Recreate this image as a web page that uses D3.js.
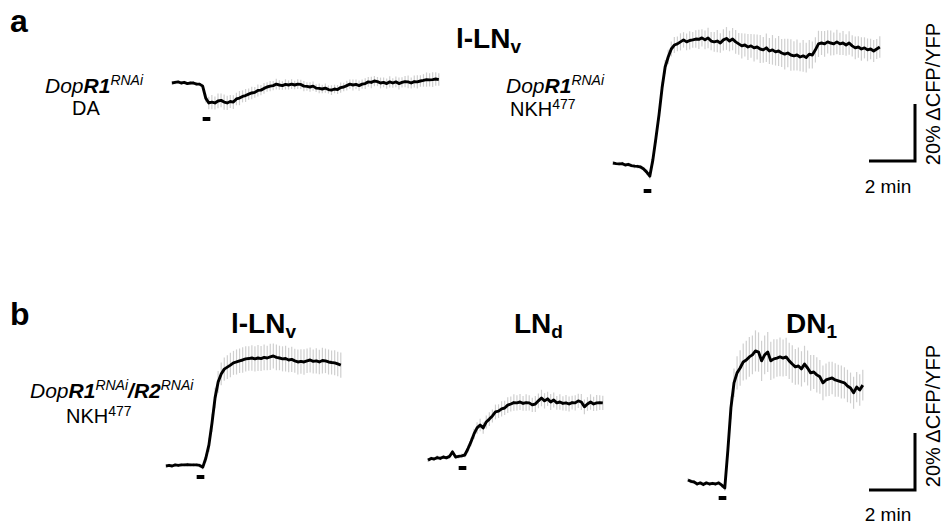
<!DOCTYPE html>
<html><head><meta charset="utf-8">
<script src="https://cdn.jsdelivr.net/npm/d3@7/dist/d3.min.js"></script>
<style>html,body{margin:0;padding:0;background:#fff;} svg{display:block;}</style>
</head><body>
<svg id="chart" width="947" height="527"></svg>
<script>
// ---- data (ΔCFP/YFP in %, one sample every 8 s) ----
const sampleSeconds = 8;
const stimOnsetSeconds = 80;
const stimDurationSeconds = 20;
const scaleBarSeconds = 120;
const scaleBarPercent = 20;
const scaleBarTimeLabel = "2 min";
const scaleBarAmpLabel = "20% \u0394CFP/YFP";

const a1Values = [0,0.2,0.4,0,0.2,-0.2,0,0,-0.4,-0.4,-1.1,-5.3,-7.0,-6.7,-7.0,-6.3,-6.1,-6.7,-7.0,-6.5,
  -6.7,-5.6,-5.3,-4.7,-4.4,-3.9,-3.5,-3.3,-2.6,-2.5,-1.9,-1.4,-1.1,-0.9,-0.4,-0.7,-0.9,-0.5,-0.7,-0.4,
  -0.7,-0.4,-0.5,-1.1,-1.2,-1.4,-1.1,-1.8,-1.9,-2.1,-1.8,-2.3,-2.5,-2.1,-2.3,-1.6,-1.4,-0.9,-0.4,-0.7,
  -0.5,-0.9,-0.4,-0.2,0.4,0.2,0.7,0.5,0,0.2,-0.2,0.4,0,0.4,-0.2,0.2,0.5,0.4,0,0.5,
  0.4,0.7,0.9,1.2,1.1,1.2,1.4,1.2];
const a1Sem = [0.5,0.6,0.5,0.7,0.6,0.5,0.6,0.7,0.6,0.6,0.8,1.5,2.2,2.5,2.3,2.6,2.4,2.7,2.5,2.3,
  2.4,2.2,2.5,2.1,2.3,2.0,2.2,1.9,2.1,1.8,1.9,1.7,1.8,1.6,1.9,1.7,1.5,1.8,1.6,1.7,
  1.5,1.7,1.6,1.8,1.5,1.7,1.6,1.4,1.7,1.5,1.6,1.4,1.7,1.5,1.6,1.8,1.5,1.7,1.6,1.9,
  1.7,1.8,1.6,1.9,1.7,2.0,1.8,1.6,1.9,1.7,1.8,2.0,1.7,1.9,2.1,1.8,2.0,2.2,1.9,2.1,
  2.3,2.0,2.2,2.5,2.3,2.6,2.4,2.2];

const a2Values = [0.7,0.5,0.4,0.5,0,0.2,-0.2,-0.4,-0.5,-0.7,-1.4,-2.5,-3.9,1.8,9.5,17.6,27.0,34.4,37.9,40.7,
  42.1,42.5,43.2,43.9,43.2,43.7,43.9,44.2,44.1,44.6,43.9,44.6,43.5,43.2,43.5,42.8,43.9,44.4,43.5,44.2,
  43.2,42.5,41.8,42.1,41.4,41.8,41.1,41.4,40.7,40.4,41.1,40.0,40.4,39.7,40.0,39.3,38.9,39.3,38.6,38.3,
  38.6,37.9,38.3,37.7,38.9,38.6,40.4,42.5,42.8,42.5,43.2,42.8,42.5,43.2,42.5,42.8,42.1,42.8,41.8,41.1,
  41.4,40.7,41.1,40.4,40.7,40.0,40.7,41.4];
const a2Sem = [0.6,0.5,0.7,0.6,0.5,0.7,0.6,0.8,0.7,0.6,0.8,1.0,1.2,1.5,1.8,2.0,2.2,2.4,2.5,2.6,
  2.8,2.6,3.0,2.7,2.9,3.2,2.8,3.1,3.4,3.0,3.3,3.6,3.2,3.5,3.9,3.4,3.7,4.0,3.6,3.9,
  4.2,3.8,4.4,4.0,4.6,4.2,4.8,4.4,4.9,4.5,5.0,4.6,5.2,4.8,5.3,4.9,5.4,5.0,5.5,5.1,
  5.4,5.0,5.6,5.2,5.0,4.7,4.4,4.6,4.2,4.5,4.1,4.4,4.0,4.3,3.9,4.2,3.8,4.1,3.7,4.0,
  3.8,4.1,3.7,4.0,3.6,3.9,3.5,3.8];

const b1Values = [0,0.2,0,0.4,0.2,0.4,0.4,0.5,0.4,0.4,0.4,0.2,-0.4,2.8,7.4,15.1,23.9,29.5,32.3,34.0,
  34.7,35.4,36.2,36.5,36.9,37.2,37.6,37.7,37.9,37.6,37.9,37.7,38.1,37.9,38.3,38.6,38.1,37.9,37.6,37.7,
  37.2,37.4,36.9,36.5,36.7,36.5,36.9,37.2,36.7,36.9,36.5,37.0,36.9,36.5,36.3,36.2,35.8,35.4];
const b1Sem = [0.5,0.6,0.5,0.6,0.5,0.6,0.5,0.6,0.5,0.6,0.6,0.7,0.8,1.5,2.5,3.2,3.6,3.8,4.0,4.1,
  4.2,4.3,4.2,4.4,4.3,4.5,4.4,4.3,4.5,4.4,4.6,4.4,4.5,4.3,4.6,4.4,4.5,4.3,4.4,4.5,
  4.3,4.4,4.2,4.4,4.3,4.5,4.3,4.4,4.2,4.4,4.3,4.5,4.3,4.4,4.2,4.4,4.3,4.4];

const b2Values = [-0.4,0.2,0,0.5,0.2,0.7,0.4,0.9,2.5,0.7,0.9,1.1,1.4,3.5,6.0,8.8,10.9,11.9,10.9,13.0,
  14.0,15.1,16.5,16.8,17.6,17.9,18.9,19.3,19.8,19.7,20.0,19.5,19.8,19.7,19.0,19.3,20.4,21.4,20.4,21.1,
  20.0,20.7,19.7,20.0,19.5,19.7,19.3,19.8,19.7,20.4,20.0,18.3,19.3,20.0,19.3,19.7,19.8,19.7];
const b2Sem = [0.6,0.7,0.6,0.8,0.6,0.7,0.6,0.8,0.7,0.6,0.7,0.8,0.9,1.2,1.5,1.8,2.0,2.2,2.0,2.3,
  2.4,2.3,2.6,2.4,2.7,2.5,2.8,2.6,2.9,2.7,2.8,2.6,2.9,2.7,2.5,2.8,2.6,2.9,2.7,2.5,
  2.8,2.6,2.4,2.7,2.5,2.8,2.6,2.4,2.7,2.5,2.8,2.6,2.4,2.7,2.5,2.8,2.6,2.5];

const b3Values = [1.4,0.9,0.7,0,0.4,-0.2,0.4,0,0.2,0,0.4,-0.4,-1.4,11.9,26.7,35.5,39.0,40.7,42.8,43.5,
  44.6,45.3,46.7,46.3,43.2,45.3,46.3,43.2,43.9,44.2,44.6,44.2,44.6,43.2,42.1,41.1,41.4,40.4,42.1,40.7,
  39.0,39.3,38.3,37.6,35.5,36.5,36.9,37.2,36.5,36.2,35.8,35.5,34.4,33.7,32.0,34.0,33.0,34.7];
const b3Sem = [0.6,0.7,0.6,0.7,0.6,0.7,0.6,0.7,0.6,0.7,0.7,0.8,1.0,2.5,4.0,5.0,5.8,6.2,6.5,6.8,
  7.0,6.8,7.2,6.9,7.1,6.8,7.0,6.7,6.9,6.6,6.8,6.5,6.7,6.4,6.6,6.3,6.5,6.2,6.4,6.1,
  6.3,6.0,6.2,5.9,6.1,5.8,6.0,5.7,5.9,5.6,5.8,5.5,5.7,5.4,5.6,5.3,5.5,5.4];

// ---- layout ----
const FONT = "'Liberation Sans', Arial, Helvetica, sans-serif";
const svg = d3.select("#chart").attr("font-family", FONT);

const xScale = d3.scaleLinear().domain([0, scaleBarSeconds]).range([0, 46]);
const yScale = d3.scaleLinear().domain([0, scaleBarPercent]).range([0, -57]);

const traces = [
  {values: a1Values, sem: a1Sem, x0: 172, y0: 83, barTop: 117},
  {values: a2Values, sem: a2Sem, x0: 613, y0: 165, barTop: 189},
  {values: b1Values, sem: b1Sem, x0: 166, y0: 466, barTop: 475},
  {values: b2Values, sem: b2Sem, x0: 428, y0: 459, barTop: 466},
  {values: b3Values, sem: b3Sem, x0: 688, y0: 484, barTop: 496}
];

const line = d3.line()
  .x((d, i) => xScale(i * sampleSeconds))
  .y(d => yScale(d));

traces.forEach(tr => {
  const g = svg.append("g").attr("transform", `translate(${tr.x0},${tr.y0})`);
  g.selectAll("line.err").data(tr.values).join("line")
    .attr("class", "err")
    .attr("x1", (d, i) => xScale(i * sampleSeconds))
    .attr("x2", (d, i) => xScale(i * sampleSeconds))
    .attr("y1", (d, i) => yScale(d - tr.sem[i]))
    .attr("y2", (d, i) => yScale(d + tr.sem[i]))
    .attr("stroke", "#cfcfcf").attr("stroke-width", 1.2);
  g.append("path").datum(tr.values)
    .attr("d", line)
    .attr("fill", "none").attr("stroke", "#000")
    .attr("stroke-width", 2.9).attr("stroke-linejoin", "round");
  g.append("rect")
    .attr("x", xScale(stimOnsetSeconds))
    .attr("y", tr.barTop - tr.y0)
    .attr("width", xScale(stimDurationSeconds))
    .attr("height", 4)
    .attr("fill", "#000");
});

// scale bars
[{cx: 915, cy: 161, ty: 193, ly: 94}, {cx: 915, cy: 490, ty: 521, ly: 416}].forEach(sb => {
  svg.append("path")
    .attr("d", `M${sb.cx - xScale(scaleBarSeconds)},${sb.cy}H${sb.cx}V${sb.cy + yScale(scaleBarPercent)}`)
    .attr("fill", "none").attr("stroke", "#000").attr("stroke-width", 3);
  svg.append("text").attr("x", 888).attr("y", sb.ty)
    .attr("text-anchor", "middle").attr("font-size", 19).text(scaleBarTimeLabel);
  svg.append("text")
    .attr("transform", `translate(940,${sb.ly}) rotate(-90)`)
    .attr("text-anchor", "middle").attr("font-size", 20).text(scaleBarAmpLabel);
});

// panel letters
svg.append("text").attr("x", 10).attr("y", 32).attr("font-size", 32).attr("font-weight", "bold").text("a");
svg.append("text").attr("x", 10).attr("y", 325).attr("font-size", 32).attr("font-weight", "bold").text("b");

// titles
function title(x, y, main, sub) {
  const t = svg.append("text").attr("x", x).attr("y", y)
    .attr("font-size", 28).attr("font-weight", "bold");
  t.append("tspan").text(main);
  t.append("tspan").attr("font-size", 19).attr("dy", 5).text(sub);
}
title(456, 48, "l-LN", "v");
title(231, 333, "l-LN", "v");
title(514, 333, "LN", "d");
title(786, 333, "DN", "1");

// genotype / drug labels
function genotype(x, y, second) {
  const t = svg.append("text").attr("x", x).attr("y", y).attr("font-size", 21).attr("font-style", "italic");
  t.append("tspan").text("Dop");
  t.append("tspan").attr("font-weight", "bold").text("R1");
  t.append("tspan").attr("font-size", 14).attr("dy", -8).text("RNAi");
  if (second) {
    t.append("tspan").attr("font-weight", "bold").attr("dy", 8).text("/R2");
    t.append("tspan").attr("font-size", 14).attr("dy", -8).text("RNAi");
  }
}
function drug(x, y, name, sup) {
  const t = svg.append("text").attr("x", x).attr("y", y).attr("font-size", 20);
  t.append("tspan").text(name);
  if (sup) t.append("tspan").attr("font-size", 14).attr("dy", -7).text(sup);
}
genotype(45, 93, false);
drug(72, 115, "DA");
genotype(506, 93, false);
drug(510, 116, "NKH", "477");
genotype(30, 398, true);
drug(66, 423, "NKH", "477");
</script>
</body></html>
